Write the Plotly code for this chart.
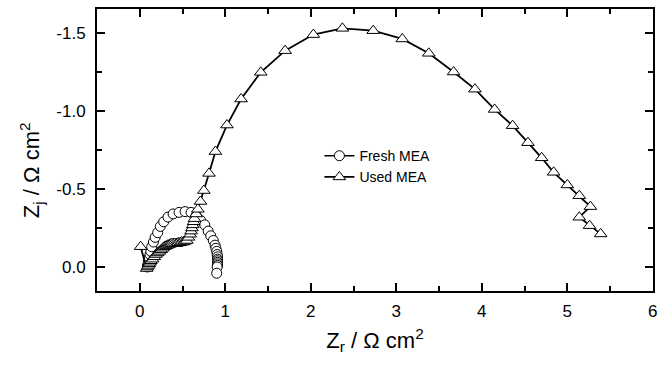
import plotly.graph_objects as go

# Fresh MEA (circles)
fresh_zr = [0.09, 0.09, 0.10, 0.10, 0.11, 0.12, 0.13, 0.14, 0.16, 0.18, 0.21, 0.24, 0.28, 0.33,
            0.39, 0.46, 0.53, 0.60, 0.66, 0.71, 0.76, 0.80, 0.83, 0.86, 0.88, 0.89, 0.90, 0.905,
            0.91, 0.91, 0.91, 0.91, 0.91, 0.91, 0.905, 0.90]
fresh_zj = [0.00, -0.01, -0.02, -0.04, -0.06, -0.08, -0.10, -0.13, -0.16, -0.19, -0.22, -0.26, -0.29, -0.32,
            -0.34, -0.35, -0.355, -0.35, -0.33, -0.30, -0.27, -0.23, -0.20, -0.17, -0.14, -0.12, -0.10, -0.08,
            -0.065, -0.05, -0.04, -0.03, -0.02, -0.01, 0.00, 0.04]

# Used MEA (triangles)
used_zr = [0.01, 0.08, 0.09, 0.10, 0.11, 0.12, 0.13, 0.15, 0.17, 0.19, 0.21, 0.23, 0.25, 0.27,
           0.29, 0.31, 0.33, 0.35, 0.37, 0.39, 0.41, 0.43, 0.45, 0.47, 0.49, 0.51, 0.53, 0.55,
           0.57, 0.59, 0.60, 0.61, 0.62, 0.63, 0.64, 0.66, 0.68, 0.71, 0.75, 0.81, 0.885, 1.02,
           1.185, 1.415, 1.70, 2.03, 2.37, 2.73, 3.07, 3.38, 3.67, 3.92, 4.15, 4.36, 4.54, 4.70,
           4.84, 5.00, 5.14, 5.27, 5.14, 5.26, 5.39]
used_zj = [-0.13, 0.01, 0.00, -0.01, -0.02, -0.03, -0.04, -0.05, -0.065, -0.08, -0.09, -0.10, -0.11, -0.12,
           -0.13, -0.135, -0.14, -0.145, -0.15, -0.15, -0.15, -0.15, -0.155, -0.155, -0.16, -0.16, -0.165, -0.17,
           -0.19, -0.21, -0.23, -0.25, -0.27, -0.29, -0.31, -0.34, -0.37, -0.42, -0.49, -0.60, -0.74, -0.91,
           -1.077, -1.248, -1.387, -1.49, -1.53, -1.515, -1.462, -1.37, -1.25, -1.14, -1.01, -0.906, -0.797, -0.70,
           -0.607, -0.526, -0.457, -0.387, -0.319, -0.265, -0.212]

x_ticks = [0, 1, 2, 3, 4, 5, 6]
y_ticks = [-1.5, -1.0, -0.5, 0.0]
y_ticktext = ["-1.5", "-1.0", "-0.5", "0.0"]

FONT = "Arial, Liberation Sans, sans-serif"
X_RANGE = [-0.5, 6.002]
Y_RANGE = [0.154, -1.654]

fig = go.Figure()
fig.add_trace(go.Scatter(
    x=fresh_zr, y=fresh_zj, mode="lines+markers", name="Fresh MEA",
    line=dict(color="black", width=1.5),
    marker=dict(symbol="circle", size=10, color="white", line=dict(color="black", width=1)),
))
fig.add_trace(go.Scatter(
    x=used_zr, y=used_zj, mode="lines+markers", name="Used MEA",
    line=dict(color="black", width=1.8),
    marker=dict(symbol="triangle-up", size=11, color="white", line=dict(color="black", width=1)),
))
# invisible trace to carry the mirrored (top/right) tick axes
fig.add_trace(go.Scatter(
    x=used_zr, y=used_zj, xaxis="x2", yaxis="y2", mode="markers",
    marker=dict(opacity=0), showlegend=False, hoverinfo="skip",
))

tick_common = dict(
    ticks="inside", ticklen=8, tickwidth=2, tickcolor="black",
    showgrid=False, zeroline=False,
)

fig.update_layout(
    xaxis=dict(
        range=X_RANGE, tickvals=x_ticks,
        showline=True, linecolor="black", linewidth=2, mirror=True,
        minor=dict(ticks="inside", ticklen=5, tickwidth=2, dtick=0.5, tick0=0, tickcolor="black", showgrid=False),
        title=dict(text="Z<sub>r</sub> / Ω cm<sup>2</sup>", font=dict(family=FONT, size=22, color="black"), standoff=12),
        ticklabelstandoff=4, ticklabeloverflow="allow",
        tickfont=dict(family=FONT, size=17, color="black"),
        **tick_common,
    ),
    yaxis=dict(
        range=Y_RANGE, tickvals=y_ticks, ticktext=y_ticktext,
        showline=True, linecolor="black", linewidth=2, mirror=True,
        minor=dict(ticks="inside", ticklen=5, tickwidth=2, dtick=0.25, tick0=0, tickcolor="black", showgrid=False),
        ticklabelstandoff=6,
        tickfont=dict(family=FONT, size=17, color="black"),
        **tick_common,
    ),
    xaxis2=dict(
        range=X_RANGE, tickvals=x_ticks, overlaying="x", side="top", anchor="y",
        showticklabels=False, showline=False,
        minor=dict(ticks="inside", ticklen=5, tickwidth=2, dtick=0.5, tick0=0, tickcolor="black", showgrid=False),
        **tick_common,
    ),
    yaxis2=dict(
        range=Y_RANGE, tickvals=y_ticks, overlaying="y", side="right", anchor="x",
        showticklabels=False, showline=False,
        minor=dict(ticks="inside", ticklen=5, tickwidth=2, dtick=0.25, tick0=0, tickcolor="black", showgrid=False),
        **tick_common,
    ),
    annotations=[dict(
        text="Z<sub>j</sub> / Ω cm<sup>2</sup>", textangle=-90,
        xref="paper", yref="paper", x=-0.118, y=0.43, xanchor="center", yanchor="middle",
        showarrow=False, font=dict(family=FONT, size=22, color="black"),
    )],
    width=659, height=366,
    margin=dict(l=97, r=1, t=9, b=75),
    paper_bgcolor="white", plot_bgcolor="white",
    font=dict(family=FONT, color="black"),
    legend=dict(x=0.40, y=0.535, xanchor="left", yanchor="top",
                bgcolor="rgba(0,0,0,0)", font=dict(family=FONT, size=14, color="black")),
)

fig.write_html("out.html")
